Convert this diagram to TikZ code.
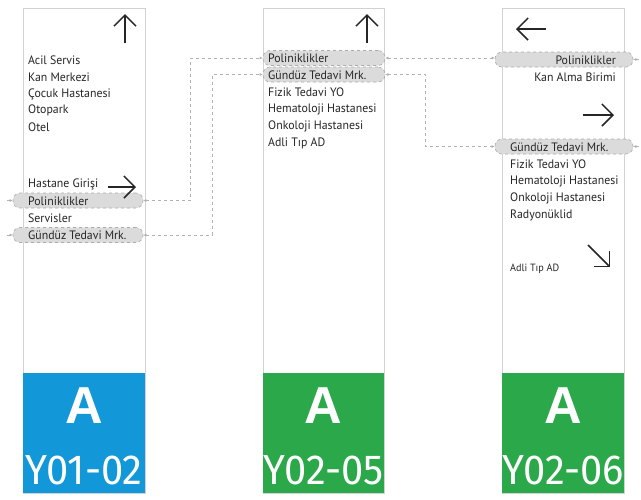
\documentclass[tikz,border=0pt]{standalone}
\usepackage{fontspec}
\usetikzlibrary{arrows.meta,calc}
\newfontfamily\lblfont[FakeStretch=0.97]{PT Sans}
\newfontfamily\codefont[FakeStretch=0.95]{Fira Sans}
\newfontfamily\bigfont{Liberation Sans}
\definecolor{signblue}{RGB}{18,152,216}
\definecolor{signgreen}{RGB}{42,168,74}
\tikzset{
  panel/.style={draw=gray!35, line width=0.7pt},
  lbl/.style={font=\lblfont\fontsize{12.2}{14}\selectfont, anchor=west, inner sep=0pt, text=black!85},
  lblr/.style={lbl, anchor=east},
  hl/.style={draw=gray!65, dashed, fill=gray!28, rounded corners=7pt, line width=0.6pt,
             minimum height=15pt, inner sep=0pt},
  conn/.style={draw=gray!60, dashed, line width=0.6pt},
  ctip/.style={conn, {Latex[length=3pt,width=3pt]}-{Latex[length=3pt,width=3pt]}},
  stub/.style={conn, -{Latex[length=3pt,width=3pt]}},
  bigarrow/.style={-{Straight Barb[length=11pt,width=22pt]}, line width=1.5pt, black!85},
  letter/.style={font=\bigfont\bfseries\fontsize{52}{52}\selectfont, text=white},
  code/.style={font=\codefont\fontsize{42}{42}\selectfont, text=white}
}
\begin{document}
\begin{tikzpicture}[x=1pt,y=-1pt]
\path[use as bounding box, fill=white] (0,0) rectangle (641,499);

% panels
\draw[panel] (23,8) rectangle (145,493);
\draw[panel] (263,8) rectangle (384,493);
\draw[panel] (502,8) rectangle (624,493);

% highlights (behind text)
\node[hl, minimum width=130pt] (lp) at (78,200.5) {};
\node[hl, minimum width=130pt] (lg) at (78,235) {};
\node[hl, minimum width=122pt] (mp) at (324,58) {};
\node[hl, minimum width=122pt] (mg) at (324,74.5) {};
\node[hl, minimum width=138pt] (rp) at (564,59.5) {};
\node[hl, minimum width=138pt] (rg) at (564,146.5) {};

% connectors
\draw[ctip] (lp.east) -- ++(47,0) |- (mp.west);
\draw[ctip] (lg.east) -- ++(69,0) |- (mg.west);
\draw[ctip] (mp.east) -- (mp.east -| rp.west);
\draw[ctip] (mg.east) -- ++(40,0) |- (rg.west);
\coordinate (lpo) at ($(lp.west)+(-6,0)$);
\coordinate (lgo) at ($(lg.west)+(-6,0)$);
\coordinate (rpo) at ($(rp.east)+(6,0)$);
\coordinate (rgo) at ($(rg.east)+(6,0)$);
\draw[stub] (lpo) -- (lp.west);
\draw[stub] (lgo) -- (lg.west);
\draw[stub] (rpo) -- (rp.east);
\draw[stub] (rgo) -- (rg.east);

% left panel texts
\node[lbl] (l1) at (28,60) {Acil Servis};
\node[lbl] (l2) at (28,77) {Kan Merkezi};
\node[lbl] (l3) at (28,94) {Çocuk Hastanesi};
\node[lbl] (l4) at (28,110.5) {Otopark};
\node[lbl] (l5) at (28,127.5) {Otel};
\node[lbl] (l6) at (28,184) {Hastane Girişi};
\node[lbl] (l7) at (28,201) {Poliniklikler};
\node[lbl] (l8) at (28,218) {Servisler};
\node[lbl] (l9) at (28,235) {Gündüz Tedavi Mrk.};

% middle panel texts
\node[lbl] (m1) at (268,58) {Poliniklikler};
\node[lbl] (m2) at (268,75) {Gündüz Tedavi Mrk.};
\node[lbl] (m3) at (268,92) {Fizik Tedavi YO};
\node[lbl] (m4) at (268,109) {Hematoloji Hastanesi};
\node[lbl] (m5) at (268,126) {Onkoloji Hastanesi};
\node[lbl] (m6) at (268,143) {Adli Tıp AD};

% right panel texts
\node[lblr] (r1) at (616,60) {Poliniklikler};
\node[lblr] (r2) at (616,77) {Kan Alma Birimi};
\node[lbl] (r3) at (510,147) {Gündüz Tedavi Mrk.};
\node[lbl] (r4) at (510,164) {Fizik Tedavi YO};
\node[lbl] (r5) at (510,181) {Hematoloji Hastanesi};
\node[lbl] (r6) at (510,198) {Onkoloji Hastanesi};
\node[lbl] (r7) at (510,215) {Radyonüklid};
\node[lbl, font=\lblfont\fontsize{10.5}{12}\selectfont] (r8) at (510,269) {Adli Tıp AD};

% direction arrows
\coordinate (a1s) at (125,43); \coordinate (a1e) at (125,14);
\coordinate (a2s) at (108,187); \coordinate (a2e) at (136,187);
\coordinate (a3s) at (367,43); \coordinate (a3e) at (367,14);
\coordinate (a4s) at (546,29); \coordinate (a4e) at (516,29);
\coordinate (a5s) at (583,115); \coordinate (a5e) at (614,115);
\coordinate (a6s) at (588,245); \coordinate (a6e) at (610,267);
\draw[bigarrow] (a1s) -- (a1e);
\draw[bigarrow] (a2s) -- (a2e);
\draw[bigarrow] (a3s) -- (a3e);
\draw[bigarrow] (a4s) -- (a4e);
\draw[bigarrow] (a5s) -- (a5e);
\draw[bigarrow] (a6s) -- (a6e);

% colored code boxes
\fill[signblue] (23,373) rectangle (145,493);
\fill[signgreen] (263,373) rectangle (384,493);
\fill[signgreen] (502,373) rectangle (624,493);
\node[letter] (la) at (84,406) {A};
\node[code] (lc) at (84,470) {Y01-02};
\node[letter] (ma) at (323.5,406) {A};
\node[code] (mc) at (323.5,470) {Y02-05};
\node[letter] (ra) at (563,406) {A};
\node[code] (rc) at (563,470) {Y02-06};
\end{tikzpicture}
\end{document}
